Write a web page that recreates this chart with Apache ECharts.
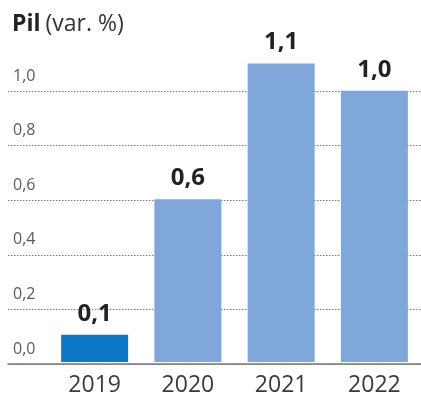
<!DOCTYPE html>
<html>
<head>
<meta charset="utf-8">
<script src="https://cdn.jsdelivr.net/npm/echarts@6/dist/echarts.min.js"></script>
<style>
  html, body { margin: 0; padding: 0; background: #fff; }
  #chart { width: 421px; height: 397px; }
</style>
</head>
<body>
<div id="chart"></div>
<script>
// GDP growth by year (%)
const years = ['2019', '2020', '2021', '2022'];
const growth = [0.1, 0.6, 1.1, 1.0];
const barColors = ['#0e78c6', '#80a7da', '#80a7da', '#80a7da'];
const yTicks = [0, 0.2, 0.4, 0.6, 0.8, 1.0];

const fmt = v => v.toFixed(1).replace('.', ',');
const font = '"Open Sans", "Noto Sans", sans-serif';

const chart = echarts.init(document.getElementById('chart'));
chart.setOption({
  animation: false,
  title: {
    text: '{b|Pil} {r|(var. %)}',
    left: 7, top: 8,
    textStyle: {
      rich: {
        b: { fontFamily: font, fontWeight: 'bold', fontSize: 23, color: '#222' },
        r: { fontFamily: font, fontWeight: 'normal', fontSize: 23, color: '#333' }
      }
    }
  },
  grid: [
    // full-width grid carrying the dotted reference lines and the baseline
    { left: 8, right: 0, top: 91, bottom: 33 },
    // grid holding the bars (same zero line, same scale per unit)
    { left: 48, right: -3, top: 36.4, bottom: 33 }
  ],
  xAxis: [
    {
      gridIndex: 0, type: 'value', min: 0, max: 1,
      axisLine: { show: true, lineStyle: { color: '#777', width: 1.5 } },
      axisTick: { show: false }, axisLabel: { show: false }, splitLine: { show: false }
    },
    {
      gridIndex: 1, type: 'category', data: years,
      axisLine: { show: false }, axisTick: { show: false },
      axisLabel: { fontFamily: font, fontSize: 23, color: '#3a3a3a', margin: 12 }
    }
  ],
  yAxis: [
    {
      gridIndex: 0, type: 'value', min: yTicks[0], max: yTicks[yTicks.length - 1], interval: 0.2,
      axisLine: { show: false }, axisTick: { show: false },
      axisLabel: {
        inside: true, margin: 5, verticalAlign: 'bottom', padding: [0, 0, 7, 0],
        fontFamily: font, fontSize: 16, color: '#5a5a5a',
        formatter: v => fmt(v)
      },
      splitLine: { show: true, lineStyle: { type: [1.5, 1.5], color: '#7a7a7a', width: 1 } }
    },
    {
      gridIndex: 1, type: 'value', min: 0, max: 1.2,
      show: false, splitLine: { show: false }
    }
  ],
  series: [{
    type: 'bar',
    xAxisIndex: 1, yAxisIndex: 1,
    barWidth: 67,
    z: 5,
    data: growth.map((v, i) => ({ value: v, itemStyle: { color: barColors[i] } })),
    label: {
      show: true, position: 'top', distance: 9,
      fontFamily: font, fontWeight: 'bold', fontSize: 24, color: '#222',
      formatter: p => fmt(p.value)
    }
  }]
});
</script>
</body>
</html>
